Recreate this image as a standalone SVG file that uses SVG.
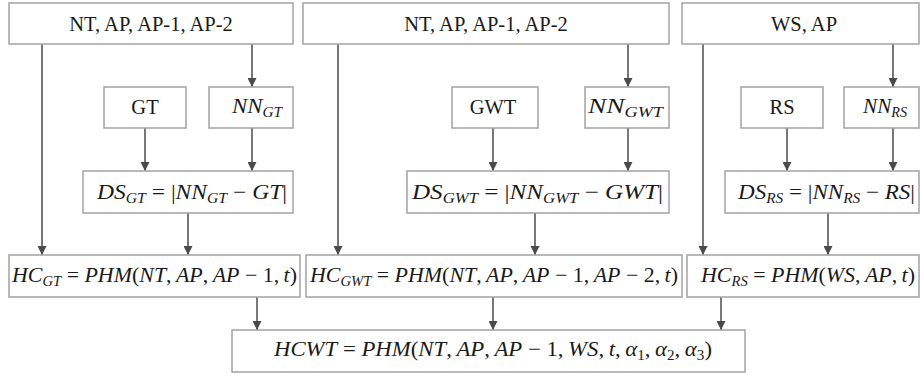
<svg xmlns="http://www.w3.org/2000/svg" width="920" height="377" viewBox="0 0 920 377">
  <defs>
    <marker id="arrow" viewBox="0 0 10 10" refX="10" refY="5" markerWidth="9" markerHeight="9" markerUnits="userSpaceOnUse" orient="auto">
      <path d="M0,0 L10,5 L0,10 Z" fill="#4a4a4a"/>
    </marker>
    <style>
      rect { fill: #ffffff; stroke: #a3a3a3; stroke-width: 1.5; }
      .conn line { stroke: #4a4a4a; stroke-width: 1.5; marker-end: url(#arrow); }
      .t { font-family: "Liberation Serif", "Times New Roman", serif; font-size: 20.5px; fill: #1a1a1a; text-anchor: middle; }
      .m { font-family: "Liberation Serif", "Times New Roman", serif; font-size: 21px; font-style: italic; fill: #1a1a1a; }
      .s { font-size: 14px; }
      .u { font-style: normal; }
    </style>
  </defs>

  <rect x="0" y="0" width="920" height="377" style="stroke:none"/>

  <!-- connectors -->
  <g class="conn" id="connectors">
    <!-- GT branch -->
    <line x1="42" y1="44" x2="42" y2="255"/>
    <line x1="252" y1="44" x2="252" y2="87"/>
    <line x1="145" y1="128" x2="145" y2="171"/>
    <line x1="252" y1="128" x2="252" y2="171"/>
    <line x1="188" y1="213" x2="188" y2="255"/>
    <line x1="257" y1="297" x2="257" y2="330"/>
    <!-- GWT branch -->
    <line x1="338" y1="44" x2="338" y2="255"/>
    <line x1="628" y1="44" x2="628" y2="87"/>
    <line x1="493" y1="128" x2="493" y2="171"/>
    <line x1="628" y1="128" x2="628" y2="171"/>
    <line x1="535" y1="213" x2="535" y2="255"/>
    <line x1="493" y1="297" x2="493" y2="330"/>
    <!-- RS branch -->
    <line x1="703" y1="44" x2="703" y2="255"/>
    <line x1="893" y1="44" x2="893" y2="87"/>
    <line x1="787" y1="128" x2="787" y2="171"/>
    <line x1="893" y1="128" x2="893" y2="171"/>
    <line x1="828" y1="213" x2="828" y2="255"/>
    <line x1="721" y1="297" x2="721" y2="330"/>
  </g>

  <!-- inputs -->
  <g id="in-gt">
    <rect x="9" y="3" width="284" height="41"/>
    <text class="t" x="151" y="31">NT, AP, AP-1, AP-2</text>
  </g>
  <g id="in-gwt">
    <rect x="303" y="3" width="366" height="41"/>
    <text class="t" x="486" y="31">NT, AP, AP-1, AP-2</text>
  </g>
  <g id="in-rs">
    <rect x="682" y="3" width="237" height="41"/>
    <text class="t" x="804" y="31">WS, AP</text>
  </g>

  <!-- reference values -->
  <g id="gt">
    <rect x="104" y="87" width="82" height="41"/>
    <text class="t" x="145" y="114">GT</text>
  </g>
  <g id="gwt">
    <rect x="452" y="87" width="86" height="41"/>
    <text class="t" x="493" y="114">GWT</text>
  </g>
  <g id="rs">
    <rect x="741" y="87" width="82" height="41"/>
    <text class="t" x="782" y="114">RS</text>
  </g>

  <!-- network estimates -->
  <g id="nn-gt">
    <rect x="209" y="87" width="84" height="41"/>
    <text class="m" x="232" y="113" textLength="50" lengthAdjust="spacingAndGlyphs">NN<tspan class="s" dy="4">GT</tspan></text>
  </g>
  <g id="nn-gwt">
    <rect x="585" y="87" width="84" height="41"/>
    <text class="m" x="588" y="113" textLength="75" lengthAdjust="spacingAndGlyphs">NN<tspan class="s" dy="4">GWT</tspan></text>
  </g>
  <g id="nn-rs">
    <rect x="844" y="87" width="75" height="41"/>
    <text class="m" x="863" y="113" textLength="44" lengthAdjust="spacingAndGlyphs">NN<tspan class="s" dy="4">RS</tspan></text>
  </g>

  <!-- deviations -->
  <g id="ds-gt">
    <rect x="83" y="171" width="210" height="42"/>
    <text class="m" x="97" y="199" textLength="190" lengthAdjust="spacingAndGlyphs">DS<tspan class="s" dy="4">GT</tspan><tspan class="u" dy="-4"> = |</tspan>NN<tspan class="s" dy="4">GT</tspan><tspan class="u" dy="-4"> − </tspan>GT<tspan class="u">|</tspan></text>
  </g>
  <g id="ds-gwt">
    <rect x="407" y="171" width="262" height="42"/>
    <text class="m" x="412" y="199" textLength="251" lengthAdjust="spacingAndGlyphs">DS<tspan class="s" dy="4">GWT</tspan><tspan class="u" dy="-4"> = |</tspan>NN<tspan class="s" dy="4">GWT</tspan><tspan class="u" dy="-4"> − </tspan>GWT<tspan class="u">|</tspan></text>
  </g>
  <g id="ds-rs">
    <rect x="725" y="171" width="194" height="42"/>
    <text class="m" x="738" y="199" textLength="177" lengthAdjust="spacingAndGlyphs">DS<tspan class="s" dy="4">RS</tspan><tspan class="u" dy="-4"> = |</tspan>NN<tspan class="s" dy="4">RS</tspan><tspan class="u" dy="-4"> − </tspan>RS<tspan class="u">|</tspan></text>
  </g>

  <!-- hazard models -->
  <g id="hc-gt">
    <rect x="9" y="255" width="291" height="42"/>
    <text class="m" x="12" y="282" textLength="285" lengthAdjust="spacingAndGlyphs">HC<tspan class="s" dy="4">GT</tspan><tspan class="u" dy="-4"> = </tspan>PHM<tspan class="u">(</tspan>NT<tspan class="u">,&#8201;</tspan>AP<tspan class="u">,&#8201;</tspan>AP<tspan class="u"> − 1,&#8201;</tspan>t<tspan class="u">)</tspan></text>
  </g>
  <g id="hc-gwt">
    <rect x="306" y="255" width="376" height="42"/>
    <text class="m" x="310" y="282" textLength="368" lengthAdjust="spacingAndGlyphs">HC<tspan class="s" dy="4">GWT</tspan><tspan class="u" dy="-4"> = </tspan>PHM<tspan class="u">(</tspan>NT<tspan class="u">,&#8201;</tspan>AP<tspan class="u">,&#8201;</tspan>AP<tspan class="u"> − 1,&#8201;</tspan>AP<tspan class="u"> − 2,&#8201;</tspan>t<tspan class="u">)</tspan></text>
  </g>
  <g id="hc-rs">
    <rect x="687" y="255" width="232" height="42"/>
    <text class="m" x="701" y="282" textLength="214" lengthAdjust="spacingAndGlyphs">HC<tspan class="s" dy="4">RS</tspan><tspan class="u" dy="-4"> = </tspan>PHM<tspan class="u">(</tspan>WS<tspan class="u">,&#8201;</tspan>AP<tspan class="u">,&#8201;</tspan>t<tspan class="u">)</tspan></text>
  </g>

  <!-- combined model -->
  <g id="hcwt">
    <rect x="232" y="330" width="513" height="42"/>
    <text class="m" x="274" y="356" textLength="438" lengthAdjust="spacingAndGlyphs">HCWT<tspan class="u"> = </tspan>PHM<tspan class="u">(</tspan>NT<tspan class="u">,&#8201;</tspan>AP<tspan class="u">,&#8201;</tspan>AP<tspan class="u"> − 1,&#8201;</tspan>WS<tspan class="u">,&#8201;</tspan>t<tspan class="u">,&#8201;</tspan>α<tspan class="s u" dy="4">1</tspan><tspan class="u" dy="-4">,&#8201;</tspan>α<tspan class="s u" dy="4">2</tspan><tspan class="u" dy="-4">,&#8201;</tspan>α<tspan class="s u" dy="4">3</tspan><tspan class="u" dy="-4">)</tspan></text>
  </g>
</svg>
